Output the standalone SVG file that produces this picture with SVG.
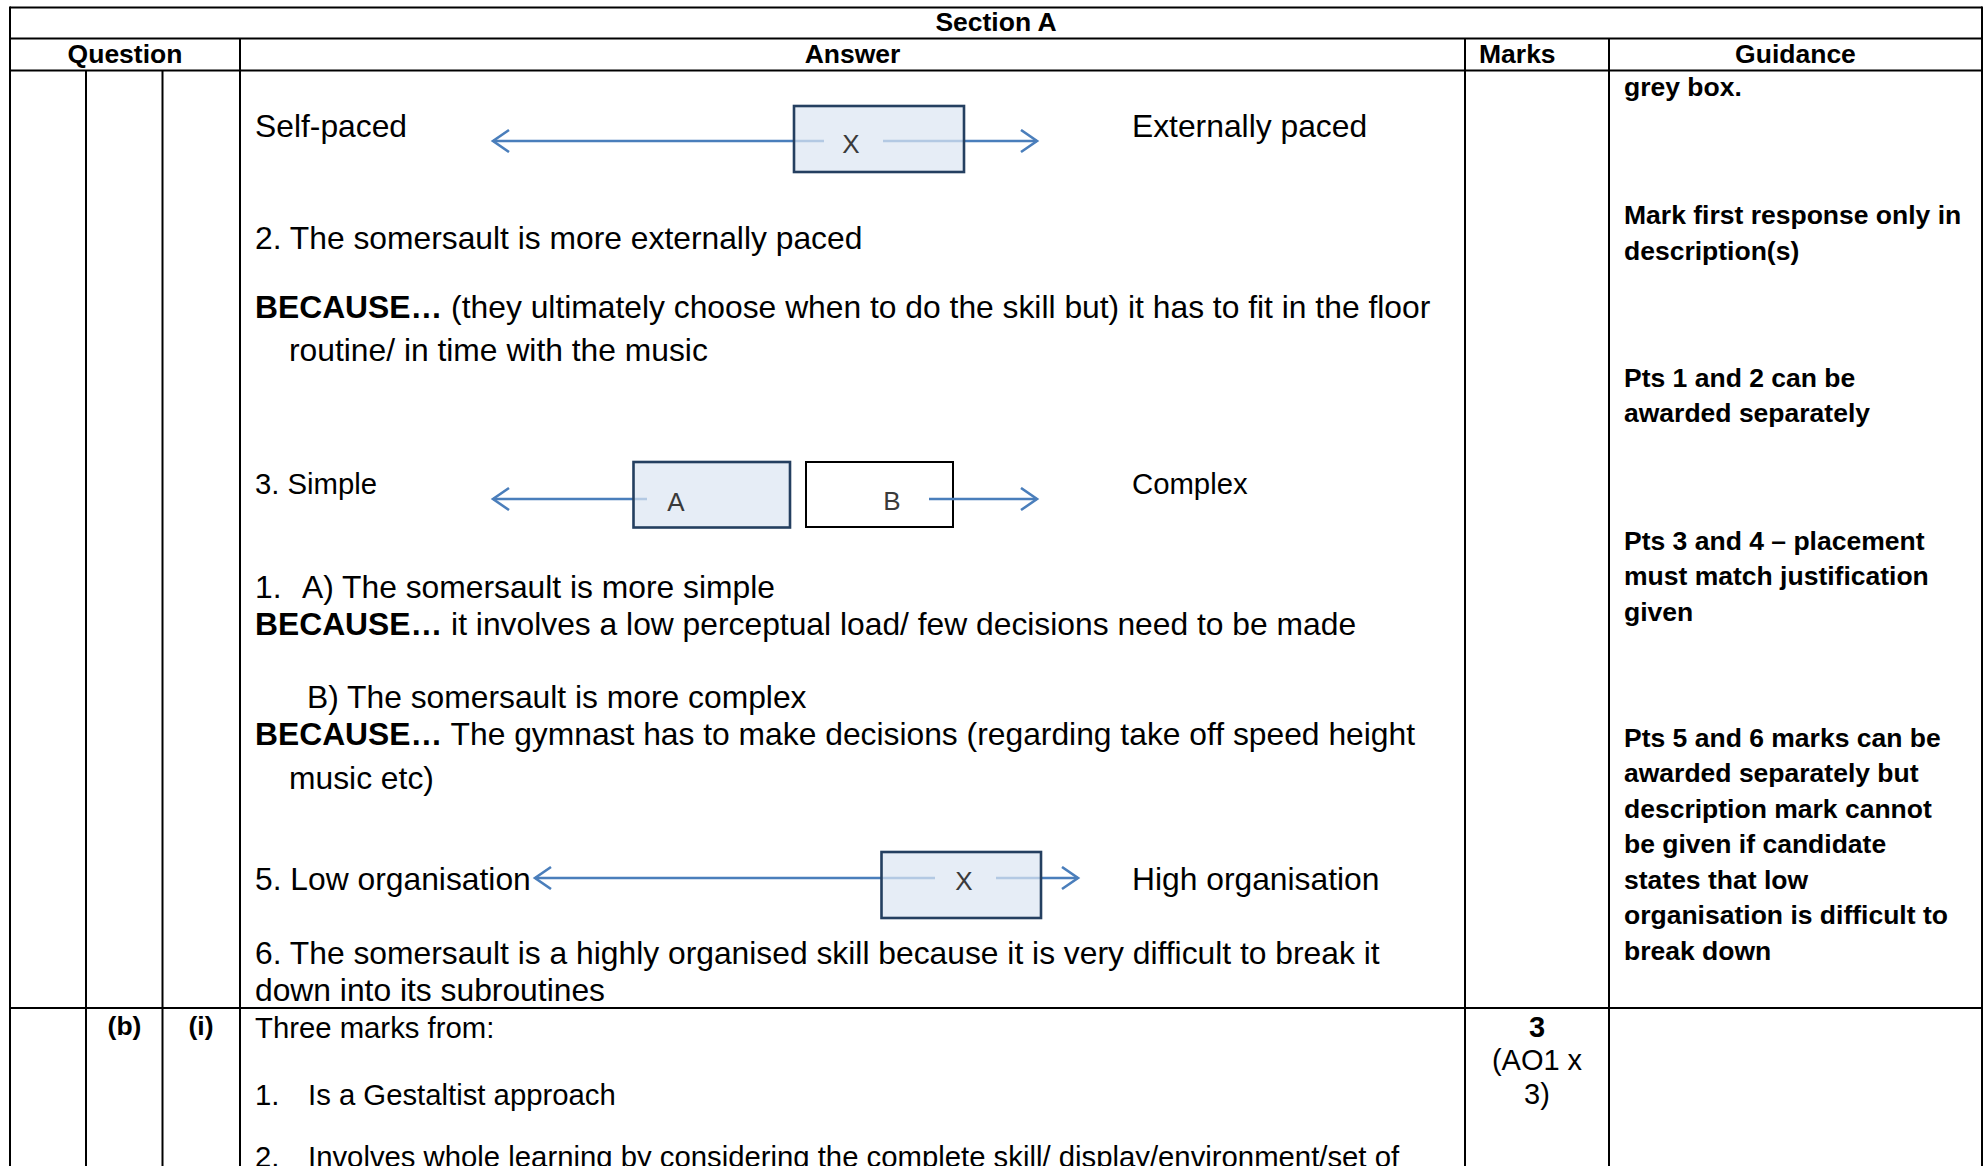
<svg xmlns="http://www.w3.org/2000/svg" width="1986" height="1166" viewBox="0 0 1986 1166">
<style>
.grid{stroke:#000;stroke-width:2;fill:none}
.hd{font-family:"Liberation Sans",Arial,sans-serif;font-weight:bold;font-size:26.5px;fill:#000}
.body{font-family:"Liberation Sans",Arial,sans-serif;font-size:31.8px;fill:#000}
.sm{font-size:29.3px}
.b{font-weight:bold}
.gd{font-family:"Liberation Sans",Arial,sans-serif;font-weight:bold;font-size:26.5px;fill:#000}
.mk{font-family:"Liberation Sans",Arial,sans-serif;font-size:29px;fill:#000;text-anchor:middle}
.lbl{font-family:"Liberation Sans",Arial,sans-serif;font-size:26px;fill:#3a3a3a;text-anchor:middle}
.arr{stroke:#4A7EBB;stroke-width:2.6;fill:none;marker-end:url(#head)}
.boxblue{fill:#dce6f2;fill-opacity:0.72;stroke:#243F60;stroke-width:2.6}
.boxwhite{fill:#fff;stroke:#000;stroke-width:2}
</style>
<defs>
<marker id="head" markerUnits="userSpaceOnUse" markerWidth="22" markerHeight="26" refX="17" refY="12" orient="auto">
<path d="M1,1 L17,12 L1,23" fill="none" stroke="#4A7EBB" stroke-width="2.6"/>
</marker>
</defs>
<rect width="1986" height="1166" fill="#fff"/>

<g id="table">
<line class="grid" x1="10" y1="7.5" x2="1982" y2="7.5"/>
<line class="grid" x1="10" y1="38.5" x2="1982" y2="38.5"/>
<line class="grid" x1="10" y1="70.5" x2="1982" y2="70.5"/>
<line class="grid" x1="10" y1="1008" x2="1982" y2="1008"/>
<line class="grid" x1="10" y1="6.5" x2="10" y2="1166"/>
<line class="grid" x1="1982" y1="6.5" x2="1982" y2="1166"/>
<line class="grid" x1="86" y1="70.5" x2="86" y2="1166"/>
<line class="grid" x1="162.5" y1="70.5" x2="162.5" y2="1166"/>
<line class="grid" x1="240" y1="38.5" x2="240" y2="1166"/>
<line class="grid" x1="1465" y1="38.5" x2="1465" y2="1166"/>
<line class="grid" x1="1609" y1="38.5" x2="1609" y2="1166"/>
<text class="hd" x="996" y="31" text-anchor="middle">Section A</text>
<text class="hd" x="125" y="63" text-anchor="middle">Question</text>
<text class="hd" x="852.5" y="63" text-anchor="middle">Answer</text>
<text class="hd" x="1479" y="63">Marks</text>
<text class="hd" x="1795.5" y="63" text-anchor="middle">Guidance</text>
</g>

<g id="answer-text">
<text class="body" x="255" y="137">Self-paced</text>
<text class="body" x="1132" y="137">Externally paced</text>
<text class="body" x="255" y="248.5">2. The somersault is more externally paced</text>
<text class="body" x="255" y="317.5"><tspan class="b">BECAUSE…</tspan> (they ultimately choose when to do the skill but) it has to fit in the floor</text>
<text class="body" x="289" y="360.5">routine/ in time with the music</text>
<text class="body sm" x="255" y="494">3. Simple</text>
<text class="body sm" x="1132" y="494">Complex</text>
<text class="body" x="255" y="598">1.</text>
<text class="body" x="302" y="598">A) The somersault is more simple</text>
<text class="body" x="255" y="634.5"><tspan class="b">BECAUSE…</tspan> it involves a low perceptual load/ few decisions need to be made</text>
<text class="body" x="307" y="708">B) The somersault is more complex</text>
<text class="body" x="255" y="744.5"><tspan class="b">BECAUSE…</tspan> The gymnast has to make decisions (regarding take off speed height</text>
<text class="body" x="289" y="788.5">music etc)</text>
<text class="body" x="255" y="889.5">5. Low organisation</text>
<text class="body" x="1132" y="889.5">High organisation</text>
<text class="body" x="255" y="964">6. The somersault is a highly organised skill because it is very difficult to break it</text>
<text class="body" x="255" y="1000.5">down into its subroutines</text>
<text class="body sm" x="255" y="1038">Three marks from:</text>
<text class="body sm" x="255" y="1105">1.</text>
<text class="body sm" x="308" y="1105">Is a Gestaltist approach</text>
<text class="body sm" x="255" y="1167">2.</text>
<text class="body sm" x="308" y="1167">Involves whole learning by considering the complete skill/ display/environment/set of</text>
</g>

<g id="question-labels">
<text class="hd" x="124.5" y="1035" text-anchor="middle">(b)</text>
<text class="hd" x="201" y="1035" text-anchor="middle">(i)</text>
</g>

<g id="marks">
<text class="mk" x="1537" y="1037" font-weight="bold">3</text>
<text class="mk" x="1537" y="1070">(AO1 x</text>
<text class="mk" x="1537" y="1104">3)</text>
</g>

<g id="guidance">
<text class="gd" x="1624" y="96">grey box.</text>
<text class="gd" x="1624" y="224">Mark first response only in</text>
<text class="gd" x="1624" y="259.5">description(s)</text>
<text class="gd" x="1624" y="386.5">Pts 1 and 2 can be</text>
<text class="gd" x="1624" y="422">awarded separately</text>
<text class="gd" x="1624" y="549.5">Pts 3 and 4 – placement</text>
<text class="gd" x="1624" y="585">must match justification</text>
<text class="gd" x="1624" y="620.5">given</text>
<text class="gd" x="1624" y="746.5">Pts 5 and 6 marks can be</text>
<text class="gd" x="1624" y="782">awarded separately but</text>
<text class="gd" x="1624" y="817.5">description mark cannot</text>
<text class="gd" x="1624" y="853">be given if candidate</text>
<text class="gd" x="1624" y="888.5">states that low</text>
<text class="gd" x="1624" y="924">organisation is difficult to</text>
<text class="gd" x="1624" y="959.5">break down</text>
</g>

<g id="node-B">
<rect class="boxwhite" x="806" y="462" width="147" height="65"/>
<text class="lbl" x="892" y="510" fill="#111">B</text>
</g>

<g id="connectors">
<line class="arr" x1="824" y1="141" x2="493" y2="141"/>
<line class="arr" x1="883" y1="141" x2="1037" y2="141"/>
<line class="arr" x1="647" y1="499" x2="493" y2="499"/>
<line class="arr" x1="929" y1="499" x2="1037" y2="499"/>
<line class="arr" x1="935" y1="878" x2="535" y2="878"/>
<line class="arr" x1="996" y1="878" x2="1078" y2="878"/>
</g>

<g id="node-X1">
<rect class="boxblue" x="794" y="106" width="170" height="66"/>
<text class="lbl" x="851" y="153">X</text>
</g>
<g id="node-A">
<rect class="boxblue" x="633.5" y="462" width="156.5" height="65.5"/>
<text class="lbl" x="676" y="511">A</text>
</g>
<g id="node-X2">
<rect class="boxblue" x="881.5" y="852" width="159.5" height="66"/>
<text class="lbl" x="964" y="890">X</text>
</g>
</svg>
